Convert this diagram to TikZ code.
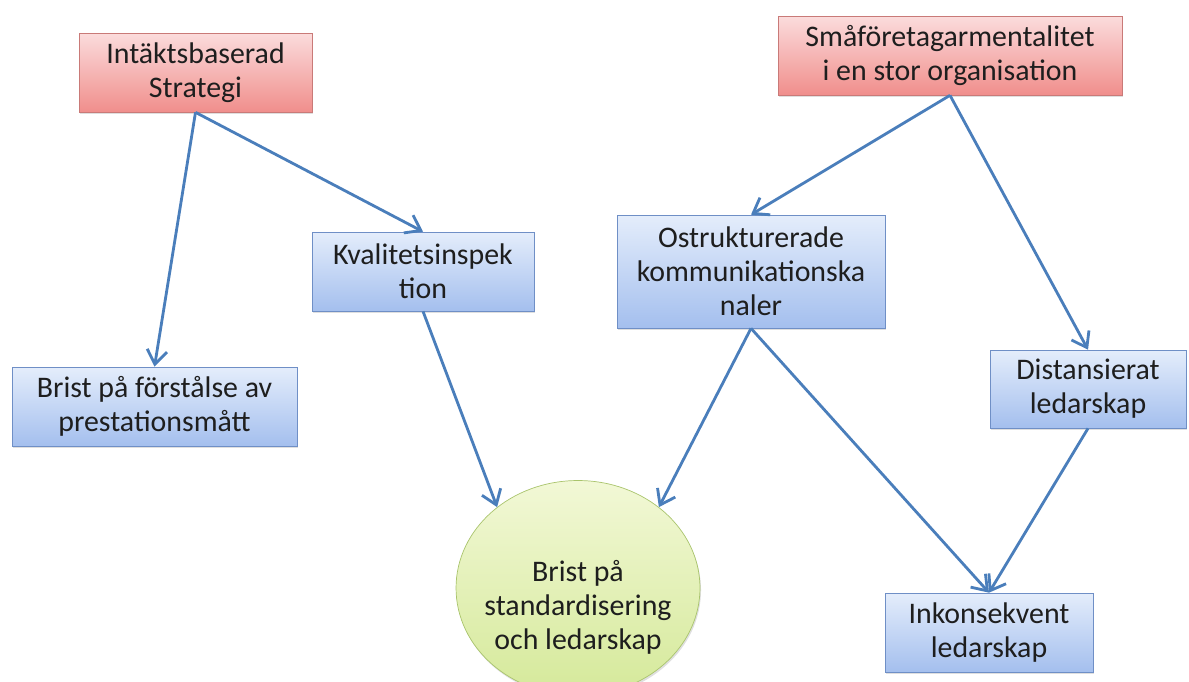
\documentclass[tikz,border=0pt]{standalone}
\usepackage{fontspec}
\setmainfont{Carlito}
\usepackage{xcolor}
\usetikzlibrary{arrows.meta, shapes.geometric, shadows, positioning}

\definecolor{pilbla}{HTML}{4A7EBB}
\definecolor{rodkant}{HTML}{C97A78}
\definecolor{rodtopp}{HTML}{FBDCDC}
\definecolor{rodbotten}{HTML}{F08E8C}
\definecolor{blakant}{HTML}{6F8FC6}
\definecolor{blatopp}{HTML}{E4EDFB}
\definecolor{blabotten}{HTML}{A4BFEE}
\definecolor{grontopp}{HTML}{F2F8D6}
\definecolor{gronbotten}{HTML}{D5E99A}
\definecolor{gronkant}{HTML}{A9C46C}
\definecolor{textgra}{HTML}{1E1E1E}

\begin{document}
\begin{tikzpicture}[x=0.02cm, y=-0.02cm,
    >={Straight Barb[length=2.8mm, width=4mm]},
    textstil/.style={align=center, inner sep=0pt, text=textgra,
        font=\fontsize{17}{19.4}\selectfont},
    ruta/.style={textstil, rectangle,
        drop shadow={opacity=0.25, shadow xshift=0.6pt, shadow yshift=-1.2pt}},
    orsak/.style={ruta, draw=rodkant, top color=rodtopp, bottom color=rodbotten},
    foljd/.style={ruta, draw=blakant, top color=blatopp, bottom color=blabotten},
    karna/.style={ruta, ellipse, draw=gronkant, top color=grontopp, bottom color=gronbotten},
    pil/.style={->, draw=pilbla, line width=1.6pt}]

    % =================================================================
    % 0. RAMEN (samma mått som bilden)
    % =================================================================
    \useasboundingbox (0,0) rectangle (1189,682);

    % =================================================================
    % 1. ORSAKER HÖGST UPP (röda rutor)
    % =================================================================
    \node[orsak, minimum width=4.66cm, minimum height=1.58cm] (strat) at (195.5,72.5)
        {Intäktsbaserad\\Strategi};
    \node[orsak, minimum width=6.88cm, minimum height=1.58cm] (smaf) at (950,55.5)
        {Småföretagarmentalitet\\i en stor organisation};

    % =================================================================
    % 2. FÖLJDER (blå rutor)
    % =================================================================
    \node[foljd, minimum width=4.44cm, minimum height=1.58cm] (kval) at (423,271.5)
        {Kvalitetsinspek\\tion};
    \node[foljd, minimum width=5.36cm, minimum height=2.26cm] (ostr) at (751,271.5)
        {Ostrukturerade\\kommunikationska\\naler};
    \node[foljd, minimum width=5.70cm, minimum height=1.58cm] (brist) at (154.5,406.5)
        {Brist på förstålse av\\prestationsmått};
    \node[foljd, minimum width=3.92cm, minimum height=1.56cm] (dist) at (1088,389)
        {Distansierat\\ledarskap};
    \node[foljd, minimum width=4.16cm, minimum height=1.58cm] (inkon) at (989,632.5)
        {Inkonsekvent\\ledarskap};

    % =================================================================
    % 3. KÄRNPROBLEMET (grön ellips, texten ligger lite lägre)
    % =================================================================
    \node[karna, minimum width=4.88cm, minimum height=4.3cm] (ell) at (578,588) {};
    \node[textstil] (elltext) at (578,607) {Brist på\\standardisering\\och ledarskap};

    % =================================================================
    % 4. PILAR
    % =================================================================
    \draw[pil] (strat.south) -- (brist.north);
    \draw[pil] (strat.south) -- (kval.north);
    \draw[pil] (smaf.south) -- (ostr.north);
    \draw[pil] (smaf.south) -- (dist.north);
    \draw[pil] (kval.south) -- (ell.135);
    \draw[pil] (ostr.south) -- (ell.45);
    \draw[pil] (ostr.south) -- (inkon.north);
    \draw[pil] (dist.south) -- (inkon.north);

\end{tikzpicture}
\end{document}
